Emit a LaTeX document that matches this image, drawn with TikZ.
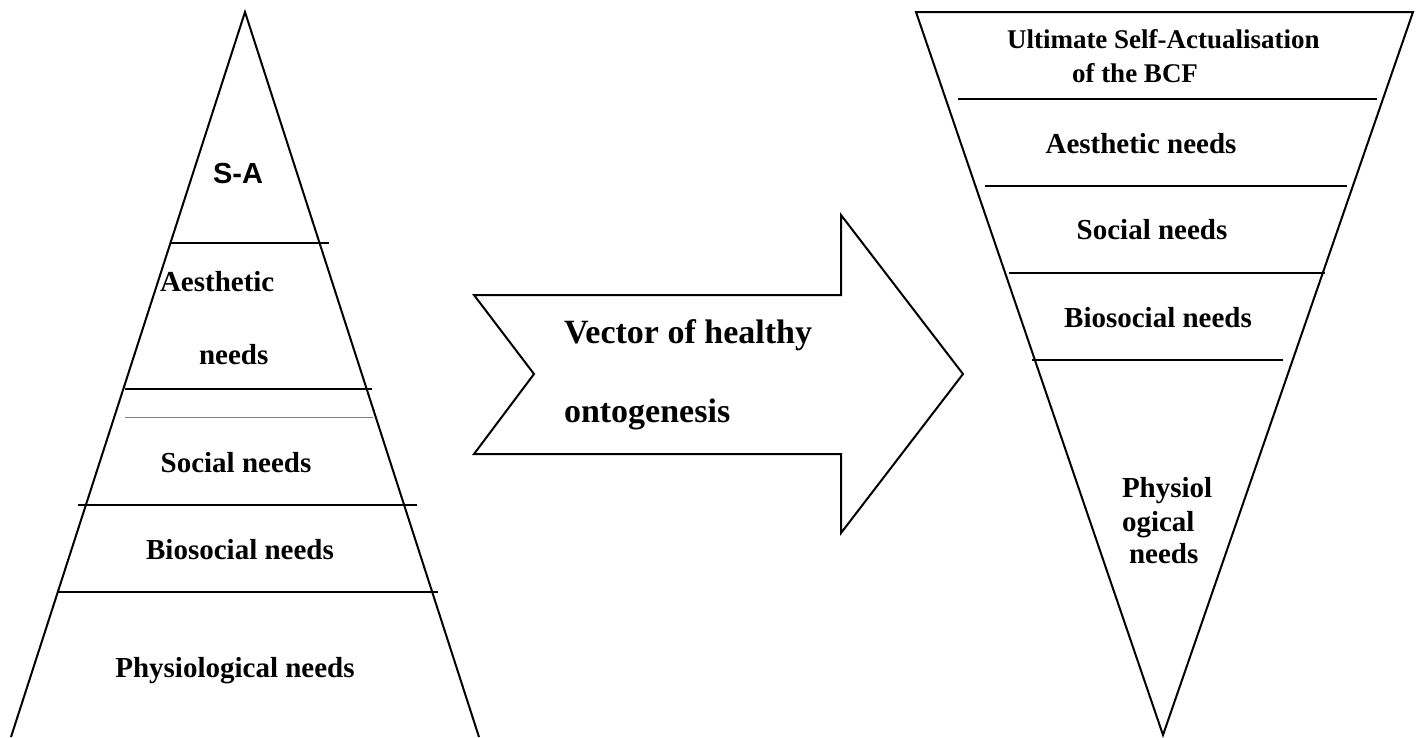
\documentclass[tikz,border=0pt]{standalone}
\usepackage{fontspec}
\setmainfont{Liberation Serif}
\newfontfamily\arialfont{Liberation Sans}
\usetikzlibrary{positioning}

\begin{document}
\begin{tikzpicture}[x=1pt,y=-1pt,line width=2pt,
  lbl/.style={font=\bfseries\fontsize{29}{33}\selectfont,inner sep=0pt,anchor=base},
  vlbl/.style={font=\bfseries\fontsize{34}{40}\selectfont,inner sep=0pt,anchor=base west},
  tier/.style={line width=2.4pt},
  thintier/.style={line width=0.8pt,draw=gray}]

 \useasboundingbox (0,0) rectangle (1416,737);

 % left pyramid
 \draw (11,737) -- (245,12) -- (479,737);
 \draw[tier] (171,243) -- (329,243);
 \draw[tier] (125,389) -- (372,389);
 \draw[thintier] (125,417) -- (373,417);
 \draw[tier] (78,505) -- (417,505);
 \draw[tier] (57,592) -- (438,592);

 \node[lbl,font=\arialfont\bfseries\fontsize{29}{33}\selectfont] (sa) at (238,183) {S-A};
 \node[lbl,anchor=base west] (aesL) at (159,291) {Aesthetic};
 \node[lbl,anchor=base west] (aesLb) at (198,364) {needs};
 \node[lbl] (socL) at (236,472) {Social needs};
 \node[lbl] (bioL) at (240,559) {Biosocial needs};
 \node[lbl] (phyL) at (235,677) {Physiological needs};

 % arrow
 \draw (474,295) -- (841,295) -- (841,215) -- (963,374) -- (841,533)
   -- (841,454) -- (474,454) -- (534,374) -- cycle;
 \node[vlbl] (vec1) at (563,343) {Vector of healthy};
 \node[vlbl] (vec2) at (563,422) {ontogenesis};

 % right pyramid, upside down
 \draw (916,12) -- (1413,12) -- (1163,735) -- cycle;
 \draw[tier] (958,99) -- (1377,99);
 \draw[tier] (985,186) -- (1347,186);
 \draw[tier] (1009,273) -- (1325,273);
 \draw[tier] (1032,360) -- (1283,360);

 \node[lbl,anchor=base west,font=\bfseries\fontsize{27}{31}\selectfont] (ult1) at (1006,48) {Ultimate Self-Actualisation};
 \node[lbl,anchor=base west,font=\bfseries\fontsize{27}{31}\selectfont] (ult2) at (1071,82) {of the BCF};
 \node[lbl] (aesR) at (1141,153) {Aesthetic needs};
 \node[lbl] (socR) at (1152,239) {Social needs};
 \node[lbl] (bioR) at (1158,327) {Biosocial needs};
 \node[lbl,anchor=base west] (phyR1) at (1121,497) {Physiol};
 \node[lbl,anchor=base west] (phyR2) at (1121,531) {ogical};
 \node[lbl,anchor=base west] (phyR3) at (1128,563) {needs};

\end{tikzpicture}
\end{document}
